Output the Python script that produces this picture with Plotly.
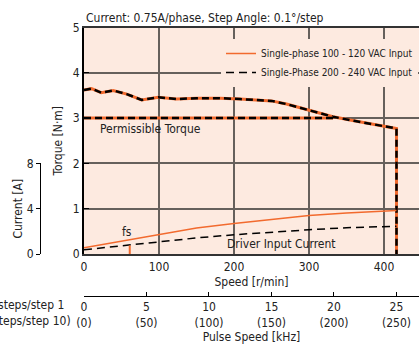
import plotly.graph_objects as go

# ---------------- data ----------------
torque_speed = [0, 10, 23, 39, 57, 77, 99, 123, 150, 181, 208, 235, 250, 270, 299, 332, 360, 399, 416.7, 416.7]
torque_vals = [3.62, 3.65, 3.56, 3.61, 3.53, 3.40, 3.46, 3.42, 3.44, 3.44, 3.42, 3.39, 3.38, 3.31, 3.18, 3.03, 2.94, 2.83, 2.77, 0.0]

perm_speed = [0, 332]
perm_torque = [3.0, 3.0]

current_speed = [0, 50, 100, 150, 200, 250, 300, 350, 416.7]
current_100v = [0.55, 1.15, 1.75, 2.30, 2.70, 3.08, 3.40, 3.62, 3.84]
current_200v = [0.37, 0.72, 1.04, 1.42, 1.70, 1.93, 2.14, 2.32, 2.45]

fs_speed = [61, 61]
fs_current = [0.0, 0.75]

speed_ticks = [0, 100, 200, 300, 400]
torque_ticks = [0, 1, 2, 3, 4, 5]
current_ticks = [0, 4, 8]
pulse_ticks = [0, 5, 10, 15, 20, 25, 30]
pulse_ticklabels = ["0<br>(0)", "5<br>(50)", "10<br>(100)", "15<br>(150)", "20<br>(200)", "25<br>(250)", "30<br>(300)"]

SPEED_MAX = 446.7
RPM_PER_KHZ = 1000 * 0.1 / 360 * 60  # 0.1 deg/step

# ---------------- style ----------------
FONT = "Liberation Sans Narrow, DejaVu Sans Condensed, Arial Narrow, sans-serif"
ORANGE = "#F26A2E"
BG = "#FDEAE0"
GRID = "#66605c"
TXT = "#222222"
W, H = 419, 349

def px_x(p):
    return p / W

def px_y(p):
    return 1 - p / H

PLOT_L, PLOT_T, PLOT_B = 84, 27.5, 254
UNIT = (PLOT_B - PLOT_T) / 5

fig = go.Figure()

# torque curves (both supplies overlap)
fig.add_trace(go.Scatter(x=torque_speed, y=torque_vals, mode="lines",
                         line=dict(color=ORANGE, width=3), showlegend=False, hoverinfo="skip"))
fig.add_trace(go.Scatter(x=torque_speed, y=torque_vals, mode="lines",
                         line=dict(color="black", width=2.5, dash="7px,4px"), showlegend=False, hoverinfo="skip"))
fig.add_trace(go.Scatter(x=perm_speed, y=perm_torque, mode="lines",
                         line=dict(color=ORANGE, width=3), showlegend=False, hoverinfo="skip"))
fig.add_trace(go.Scatter(x=perm_speed, y=perm_torque, mode="lines",
                         line=dict(color="black", width=2.5, dash="7px,4px"), showlegend=False, hoverinfo="skip"))

# current curves
fig.add_trace(go.Scatter(x=current_speed, y=current_100v, mode="lines", yaxis="y2",
                         name="Single-phase 100 - 120 VAC Input",
                         line=dict(color=ORANGE, width=1.5)))
fig.add_trace(go.Scatter(x=current_speed, y=current_200v, mode="lines", yaxis="y2",
                         name="Single-Phase 200 - 240 VAC Input",
                         line=dict(color="black", width=1.5, dash="8px,5px")))
fig.add_trace(go.Scatter(x=fs_speed, y=fs_current, mode="lines", yaxis="y2",
                         line=dict(color=ORANGE, width=2), showlegend=False, hoverinfo="skip"))

# invisible trace so the pulse-speed axis is drawn
fig.add_trace(go.Scatter(x=[pulse_ticks[0]], y=[torque_ticks[0]], xaxis="x2", yaxis="y",
                         mode="markers", marker=dict(opacity=0), showlegend=False, hoverinfo="skip"))

fig.update_layout(
    width=W, height=H, autosize=False,
    margin=dict(l=0, r=0, t=0, b=0, autoexpand=False),
    paper_bgcolor="white", plot_bgcolor="rgba(0,0,0,0)",
    font=dict(family=FONT, size=12, color=TXT),
    showlegend=True,
    legend=dict(x=px_x(221), y=px_y(39), xanchor="left", yanchor="top",
                bgcolor=BG, borderwidth=0, itemwidth=30,
                font=dict(family=FONT, size=10, color=TXT), tracegroupgap=0),
    xaxis=dict(domain=[px_x(PLOT_L), 1], range=[0, SPEED_MAX], tickvals=speed_ticks,
               showgrid=True, gridcolor=GRID, gridwidth=1.5, zeroline=False,
               showline=True, linecolor="#333", linewidth=2, mirror=True,
               ticks="", ticklabelstandoff=1, automargin=False,
               title=dict(text="Speed [r/min]", standoff=4, font=dict(size=12)),
               anchor="y"),
    yaxis=dict(domain=[px_y(PLOT_B), px_y(PLOT_T)], range=[0, 5], tickvals=torque_ticks,
               showgrid=True, gridcolor=GRID, gridwidth=1.5, zeroline=False,
               showline=True, linecolor="black", linewidth=2,
               ticks="inside", ticklen=5, tickcolor="black", ticklabelstandoff=0, automargin=False,
               title=dict(text="Torque [N·m]", standoff=8, font=dict(size=12)),
               anchor="x"),
    yaxis2=dict(domain=[px_y(PLOT_B), px_y(PLOT_B - 2 * UNIT)], range=[0, 8], tickvals=current_ticks,
                anchor="free", position=px_x(40), showgrid=False, zeroline=False,
                showline=True, linecolor="black", linewidth=1, automargin=False,
                ticks="outside", ticklen=4, tickcolor="black", ticklabelstandoff=0,
                title=dict(text="Current [A]", standoff=0, font=dict(size=12))),
    xaxis2=dict(domain=[px_x(PLOT_L), 1], range=[0, SPEED_MAX / RPM_PER_KHZ],
                overlaying="x", anchor="free", position=px_y(296), side="bottom",
                tickvals=pulse_ticks, ticktext=pulse_ticklabels, automargin=False,
                showgrid=False, zeroline=False, showline=True, linecolor="black", linewidth=1,
                ticks="inside", ticklen=4, tickcolor="black",
                title=dict(text="Pulse Speed [kHz]", standoff=2, font=dict(size=12))),
    shapes=[dict(type="rect", xref="paper", yref="paper", layer="below",
                 x0=px_x(PLOT_L), x1=1, y0=px_y(PLOT_B), y1=px_y(PLOT_T),
                 fillcolor=BG, line=dict(width=0))],
)

ann = [
    dict(text="Current: 0.75A/phase, Step Angle: 0.1°/step", x=px_x(PLOT_L), y=px_y(18),
         xref="paper", yref="paper", xanchor="left", yanchor="middle", showarrow=False),
    dict(text="<b>Gear Ratio: 7.2</b>", x=px_x(106), y=px_y(-5), xref="paper", yref="paper",
         xanchor="left", yanchor="middle", showarrow=False, font=dict(size=15)),
    dict(text="Permissible Torque", x=88, y=2.75, xref="x", yref="y",
         xanchor="center", yanchor="middle", showarrow=False),
    dict(text="Driver Input Current", x=263, y=0.86, xref="x", yref="y2",
         xanchor="center", yanchor="middle", showarrow=False),
    dict(text="fs", x=57, y=1.9, xref="x", yref="y2",
         xanchor="center", yanchor="middle", showarrow=False),
    dict(text="Microsteps/step 1", x=px_x(66), y=px_y(305), xref="paper", yref="paper",
         xanchor="right", yanchor="middle", showarrow=False),
    dict(text="(Microsteps/step 10)", x=px_x(73), y=px_y(321), xref="paper", yref="paper",
         xanchor="right", yanchor="middle", showarrow=False),
]
fig.update_layout(annotations=ann)

fig.write_html("out.html", config={"displayModeBar": False},
               post_script="document.body.style.margin='0';")
